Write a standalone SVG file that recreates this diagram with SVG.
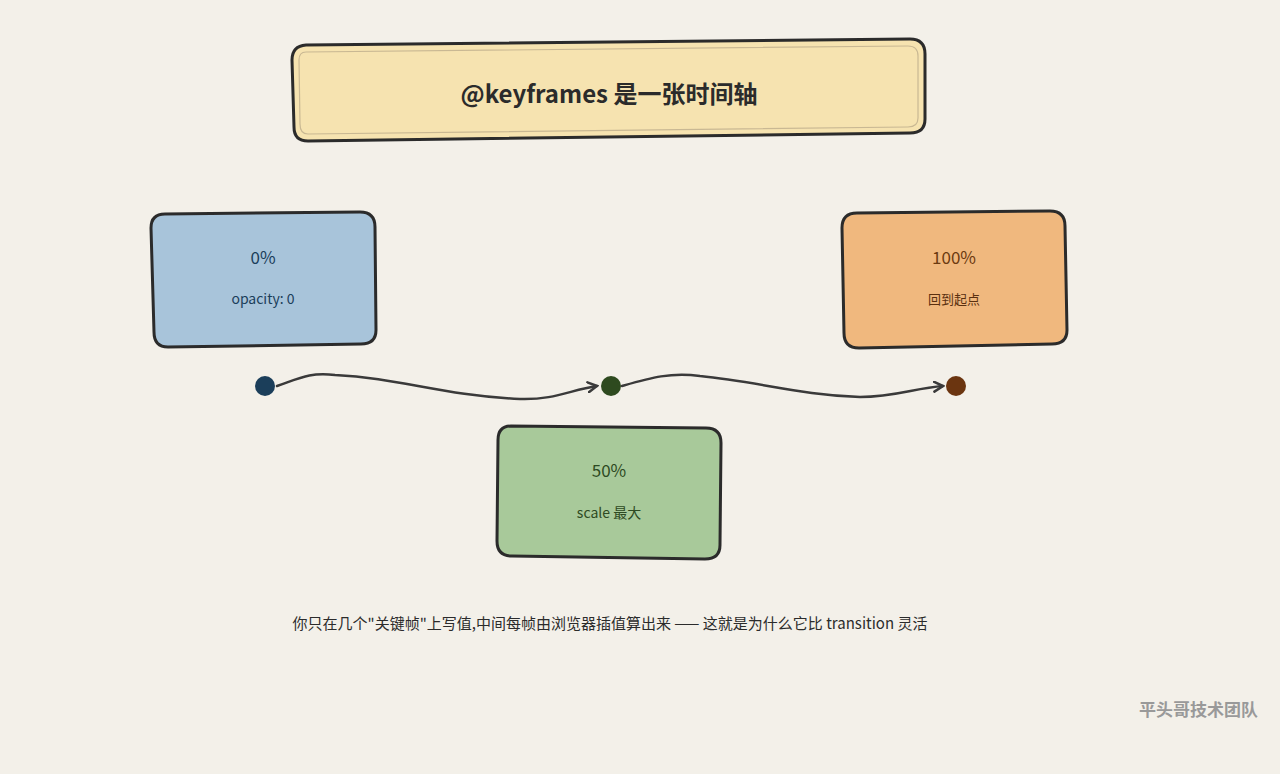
<svg xmlns="http://www.w3.org/2000/svg" width="1280" height="774" viewBox="0 0 1280 774">
<defs>
<style>
.box{stroke:#2b2b2b;stroke-width:3;stroke-linejoin:round}
.t{font-family:"Noto Sans CJK SC","Noto Sans",sans-serif;text-anchor:middle}
.conn{fill:none;stroke:#3a3a3a;stroke-width:2.5;stroke-linecap:round}
</style>
<marker id="ah" viewBox="0 0 12 12" refX="10" refY="6" markerWidth="12" markerHeight="12" markerUnits="userSpaceOnUse" orient="auto">
<path d="M1,1 L10,6 L1,11" fill="none" stroke="#3a3a3a" stroke-width="2.5" stroke-linecap="round"/>
</marker>
</defs>
<rect width="1280" height="774" fill="#f3f0e9"/>
<g id="title">
<path class="box" fill="#f6e3b0" d="M306,45 L910,39 Q925,39 925,54 L925,119 Q925,133 910,133 L308,141 Q294,141 294,127 L292,60 Q292,46 306,45 Z"/>
<path d="M306,52 L908,46 Q918,46 918,56 L918,118 Q918,127 908,127 L308,134 Q300,134 300,124 L299,60 Q299,52 306,52 Z" fill="none" stroke="#c9b893" stroke-width="1.2"/>
<text class="t" x="609" y="103" font-size="24" font-weight="bold" fill="#2b2b2b">@keyframes 是一张时间轴</text>
</g>
<g id="n0">
<path class="box" fill="#a8c4da" d="M165,214 L360,212 Q375,212 375,227 L376,330 Q376,344 361,344 L168,347 Q154,347 154,332 L151,228 Q151,214 165,214 Z"/>
<text class="t" x="263" y="264" font-size="17" fill="#1b3e5a">0%</text>
<text class="t" x="263" y="304" font-size="14" fill="#1b3e5a">opacity: 0</text>
</g>
<g id="n100">
<path class="box" fill="#f0b87e" d="M857,213 L1050,211 Q1065,211 1065,226 L1067,330 Q1067,344 1052,344 L859,348 Q844,348 844,333 L842,228 Q842,213 857,213 Z"/>
<text class="t" x="954" y="264" font-size="17" fill="#6b3a10">100%</text>
<text class="t" x="954" y="304" font-size="13" fill="#5a3010">回到起点</text>
</g>
<g id="n50">
<path class="box" fill="#a8c99a" d="M511,426 L706,428 Q721,428 721,443 L720,545 Q720,559 705,559 L512,556 Q497,556 497,541 L498,440 Q498,426 511,426 Z"/>
<text class="t" x="609" y="477" font-size="17" fill="#2e4a22">50%</text>
<text class="t" x="609" y="518" font-size="14" fill="#2e4a22">scale 最大</text>
</g>
<g id="connectors">
<path class="conn" marker-end="url(#ah)" d="M277,386 C300,378 310,372 335,375 C400,378 440,395 520,399 C555,400 570,390 597,386"/>
<path class="conn" marker-end="url(#ah)" d="M622,386 C650,378 670,372 700,376 C760,382 800,395 860,397 C895,397 915,388 943,386"/>
</g>
<g id="dots">
<circle cx="265" cy="386" r="10" fill="#1b3e5a"/>
<circle cx="611" cy="386" r="10" fill="#2e4a1f"/>
<circle cx="956" cy="386" r="10" fill="#6b3510"/>
</g>
<text class="t" x="610" y="629" font-size="15" fill="#2b2b2b">你只在几个"关键帧"上写值,中间每帧由浏览器插值算出来 —— 这就是为什么它比 transition 灵活</text>
<text x="1258" y="716" font-family="Noto Sans CJK SC,sans-serif" font-size="17" font-weight="bold" fill="#999" text-anchor="end">平头哥技术团队</text>
</svg>
